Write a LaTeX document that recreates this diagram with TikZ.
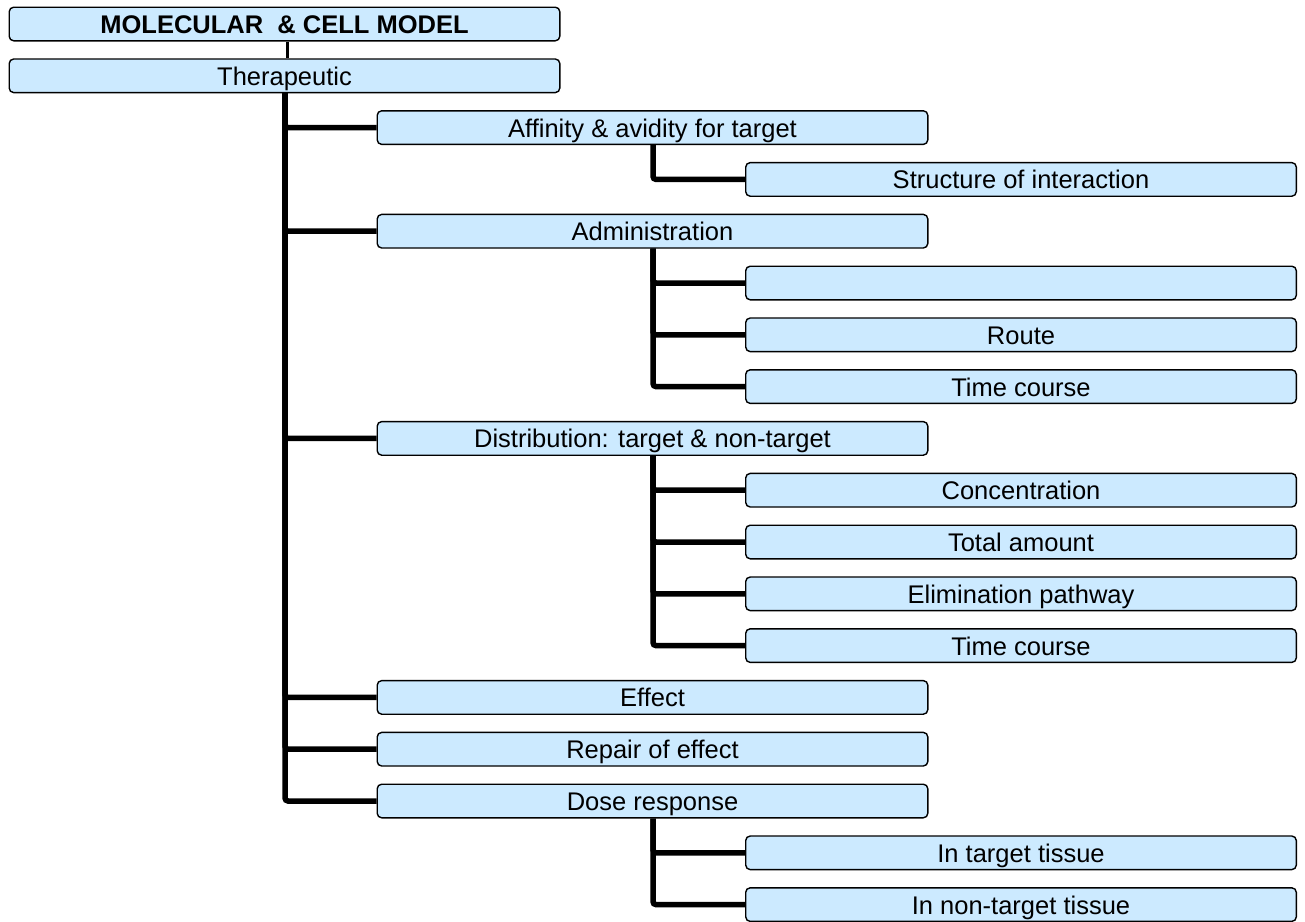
\documentclass[tikz,border=0pt]{standalone}
\usepackage{fontspec}
\setmainfont{Liberation Sans}
\definecolor{boxfill}{RGB}{204,234,255}
\tikzset{
  item/.style={draw=black, line width=1.4pt, fill=boxfill, rounded corners=4.5pt,
    minimum width=550.6pt, minimum height=33.6pt, inner sep=0pt,
    font=\fontsize{25.5}{27}\selectfont, text height=19pt, text depth=0pt},
  link/.style={line width=5.5pt, rounded corners=3pt},
  toplink/.style={line width=3pt}
}
\begin{document}
\begin{tikzpicture}[x=1pt,y=-1pt]
\useasboundingbox (0,0) rectangle (1305,921);
\def\ra{24}\def\rs{51.8}
% first column
\node[item, font=\bfseries\fontsize{25.5}{27}\selectfont] (top) at (284.5,\ra) {MOLECULAR\ \ \& CELL MODEL};
\node[item] (ther) at (284.5,\ra+\rs) {Therapeutic};
% second column
\node[item] (aff)  at (652.5,\ra+2*\rs)  {Affinity \& avidity for target};
\node[item] (adm)  at (652.5,\ra+4*\rs)  {Administration};
\node[item] (dist) at (652.5,\ra+8*\rs)  {Distribution: target \& non-target};
\node[item] (eff)  at (652.5,\ra+13*\rs) {Effect};
\node[item] (rep)  at (652.5,\ra+14*\rs) {Repair of effect};
\node[item] (dose) at (652.5,\ra+15*\rs) {Dose response};
% third column
\node[item] (str)  at (1021,\ra+3*\rs)  {Structure of interaction};
\node[item] (adm1) at (1021,\ra+5*\rs)  {};
\node[item] (rte)  at (1021,\ra+6*\rs)  {Route};
\node[item] (tc1)  at (1021,\ra+7*\rs)  {Time course};
\node[item] (conc) at (1021,\ra+9*\rs)  {Concentration};
\node[item] (tot)  at (1021,\ra+10*\rs) {Total amount};
\node[item] (elim) at (1021,\ra+11*\rs) {Elimination pathway};
\node[item] (tc2)  at (1021,\ra+12*\rs) {Time course};
\node[item] (tgt)  at (1021,\ra+16*\rs) {In target tissue};
\node[item] (ntgt) at (1021,\ra+17*\rs) {In non-target tissue};
% connectors
\draw[toplink] ([xshift=2.5pt]top.south) -- ([xshift=2.5pt]ther.north);
\foreach \c in {aff,adm,dist,eff,rep,dose}
  \draw[link] ([xshift=0.5pt]ther.south) |- (\c.west);
\draw[link] ([xshift=0.5pt]aff.south) |- (str.west);
\foreach \c in {adm1,rte,tc1}
  \draw[link] ([xshift=0.5pt]adm.south) |- (\c.west);
\foreach \c in {conc,tot,elim,tc2}
  \draw[link] ([xshift=0.5pt]dist.south) |- (\c.west);
\foreach \c in {tgt,ntgt}
  \draw[link] ([xshift=0.5pt]dose.south) |- (\c.west);
\end{tikzpicture}
\end{document}
